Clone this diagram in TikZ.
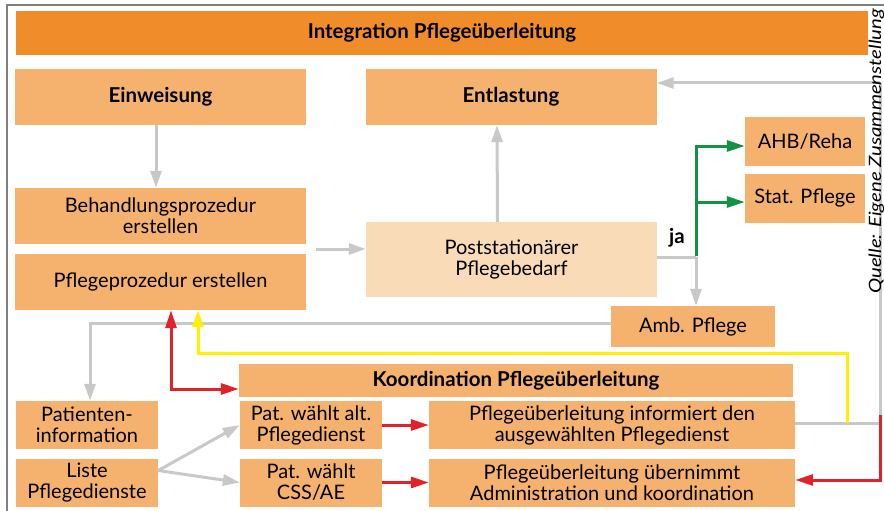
\documentclass[tikz,border=0pt]{standalone}
\usepackage{fontspec}
\setmainfont{Lato}
\newfontfamily\quellefont[FakeStretch=1.2]{Lato}
\usetikzlibrary{arrows.meta}
\definecolor{titleorange}{HTML}{F08C2A}
\definecolor{boxorange}{HTML}{F5B26F}
\definecolor{lightpeach}{HTML}{FADBB8}
\definecolor{linegray}{HTML}{C8C8C8}
\definecolor{framegray}{HTML}{7F7F7F}
\definecolor{arrgreen}{HTML}{139144}
\definecolor{arrred}{HTML}{E2222A}
\definecolor{arryellow}{HTML}{FFF000}
\newcommand{\boxfont}{\fontsize{20}{21}\selectfont}
\newcommand{\headfont}{\fontsize{20.5}{21}\selectfont\bfseries}
\tikzset{
	box/.style={rectangle, fill=boxorange, inner sep=0pt, align=center, font=\boxfont},
	bigbox/.style={box, minimum width=291pt, minimum height=56pt},
	sidebox/.style={box, minimum width=120pt, minimum height=49pt},
	lowbox/.style={box, minimum width=142pt, minimum height=48pt},
	infobox/.style={box, minimum width=366pt, minimum height=48pt},
	grayline/.style={line width=3pt, color=linegray},
	grayarr/.style={grayline, -{Triangle[length=17pt,width=11pt]}},
	redarr/.style={line width=3pt, color=arrred, -{Triangle[length=18pt,width=11pt]}},
	greenarr/.style={line width=3pt, color=arrgreen, -{Triangle[length=18pt,width=11pt]}},
	yellowarr/.style={line width=3pt, color=arryellow, -{Triangle[length=17pt,width=11pt]}}
}

\begin{document}
\begin{tikzpicture}[x=1pt, y=-1pt]
		%%%%% START %%%%%
		\useasboundingbox (0,0) rectangle (884,511);
		\clip (0,0) rectangle (884,511);
		
		\draw[line width=1.5pt, color=framegray] (7,511) -- (7,5) -- (884,5);
		
		\node[box, fill=titleorange, minimum width=852pt, minimum height=44pt, font=\headfont] (integ) at (442,33) {Integration Pflegeüberleitung};
		
		\node[bigbox, font=\headfont] (einw) at (160.5,97) {Einweisung};
		\node[bigbox, font=\headfont] (entl) at (511,97) {Entlastung};
		\node[bigbox] (behand) at (160.5,216) {Behandlungsprozedur\\erstellen};
		\node[bigbox] (pflproz) at (160.5,282) {Pflegeprozedur erstellen};
		\node[bigbox, fill=lightpeach, minimum height=75pt] (post) at (511.5,259.5) {Poststationärer\\Pflegebedarf};
		
		\node[sidebox] (ahb) at (805,141.5) {AHB/Reha};
		\node[sidebox] (stat) at (805,198.5) {Stat. Pflege};
		\node[box, minimum width=164pt, minimum height=41pt] (amb) at (693,326.5) {Amb. Pflege};
		
		\node[box, minimum width=554pt, minimum height=33pt, font=\headfont] (koord) at (516,380.5) {Koordination Pflegeüberleitung};
		
		\node[lowbox] (patinfo) at (87,425) {Patienten-\\information};
		\node[lowbox] (liste) at (87,482.5) {Liste\\Pflegedienste};
		\node[lowbox] (alt) at (311,425) {Pat. wählt alt.\\Pflegedienst};
		\node[lowbox] (css) at (311,482.5) {Pat. wählt\\CSS/AE};
		\node[infobox] (inform) at (612,425) {Pflegeüberleitung informiert den\\ausgewählten Pflegedienst};
		\node[infobox] (uebern) at (612,482.5) {Pflegeüberleitung übernimmt\\Administration und koordination};
		
		% gray flow
		\draw[grayarr] ([xshift=-4.5pt]einw.south) -- ([xshift=-4.5pt]behand.north);
		\coordinate (gap) at (316,249);
		\draw[grayarr] (gap) -- (gap -| post.west);
		\draw[grayarr] ([xshift=-14pt]post.north) -- ([xshift=-14pt]entl.south);
		
		\coordinate (ja) at (696,257);
		\node[font=\headfont] (jalabel) at (677,238) {ja};
		\draw[grayline] (post.east |- ja) -- (ja);
		\draw[grayarr] (ja) -- (ja |- amb.north);
		\draw[greenarr] ([yshift=1.5pt]ja) |- ([yshift=-4.5pt]ahb.west);
		\draw[greenarr] (ja |- stat.west) ++(0,3.5) -- ([yshift=-3.5pt]stat.west);
		
		\draw[grayarr] ([yshift=3.5pt]amb.west) -| ([xshift=3pt]patinfo.north);
		
		\coordinate (rtop) at (880,83);
		\coordinate (rbot) at (880,423);
		\draw[grayarr] (rtop) -- (rtop -| entl.east);
		\draw[grayline] (rtop) -- (rbot) -- (rbot -| inform.east);
		
		\draw[grayarr] ([yshift=12pt]liste.east) -- (alt.west);
		\draw[grayarr] ([yshift=12pt]liste.east) -- (css.west);
		
		% yellow and red
		\coordinate (ycorner) at (198,353);
		\draw[yellowarr] (847,423) |- (ycorner) -- (ycorner |- pflproz.south);
		
		\coordinate (rcorner) at (171,389);
		\draw[redarr, {Triangle[length=18pt,width=11pt]}-{Triangle[length=18pt,width=11pt]}] (rcorner |- pflproz.south) -- (rcorner) -- (rcorner -| koord.west);
		\draw[redarr] (alt.east) -- (inform.west);
		\draw[redarr] (css.east) -- (uebern.west);
		\draw[redarr] (880,415) |- ([yshift=2.5pt]uebern.east);
		
		\node[rotate=90, anchor=base west, inner sep=0pt, font=\fontsize{17}{20}\quellefont\itshape] (quelle) at (881,294) {Quelle: Eigene Zusammenstellung};
		
		%%%%% END %%%%%
	\end{tikzpicture}
\end{document}
